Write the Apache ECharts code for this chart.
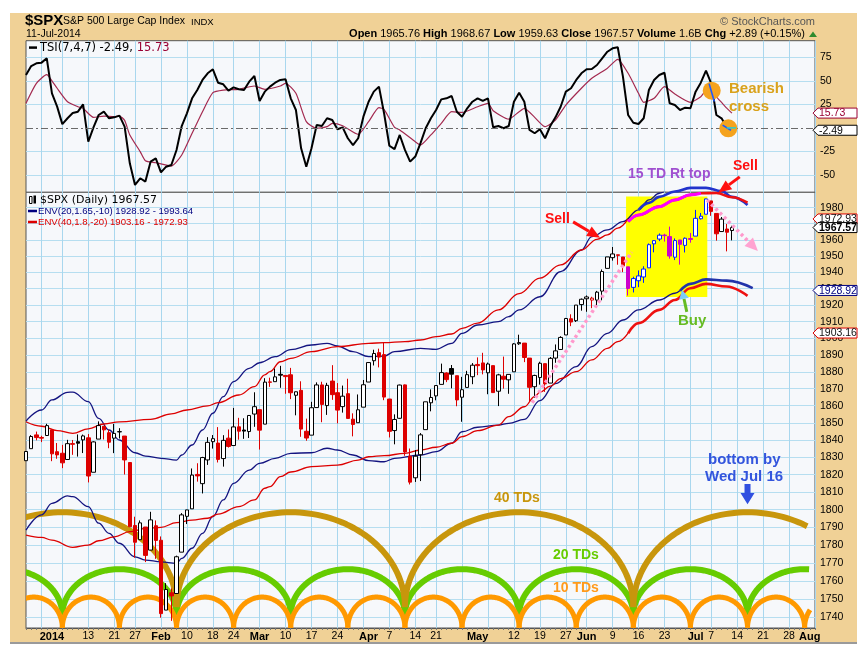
<!DOCTYPE html>
<html>
<head>
<meta charset="utf-8">
<script src="https://cdn.jsdelivr.net/npm/echarts@6/dist/echarts.min.js"></script>
<style>
html,body{margin:0;padding:0;background:#fff;}
#wrap{position:relative;width:867px;height:654px;overflow:hidden;}
#frame{position:absolute;left:10px;top:13px;width:847px;height:629px;background:#F0D196;border-bottom:2px solid #9a9a9a;}
#c{position:absolute;left:0;top:0;width:867px;height:654px;}
</style>
</head>
<body>
<div id="wrap"><div id="frame"></div><div id="c"></div></div>
<script>
// ---------------- DATA ----------------
const tradingDays = {
  '2013-12': [24,26,27,30,31],
  '2014-01': [2,3,6,7,8,9,10,13,14,15,16,17,21,22,23,24,27,28,29,30,31],
  '2014-02': [3,4,5,6,7,10,11,12,13,14,18,19,20,21,24,25,26,27,28],
  '2014-03': [3,4,5,6,7,10,11,12,13,14,17,18,19,20,21,24,25,26,27,28,31],
  '2014-04': [1,2,3,4,7,8,9,10,11,14,15,16,17,21,22,23,24,25,28,29,30],
  '2014-05': [1,2,5,6,7,8,9,12,13,14,15,16,19,20,21,22,23,27,28,29,30],
  '2014-06': [2,3,4,5,6,9,10,11,12,13,16,17,18,19,20,23,24,25,26,27,30],
  '2014-07': [1,2,3,7,8,9,10,11,14,15,16,17,18,21,22,23,24,25,28,29,30,31],
  '2014-08': [1,4]
};
const dates = [];
Object.keys(tradingDays).forEach(m => tradingDays[m].forEach(d => dates.push(m + '-' + String(d).padStart(2, '0'))));

// x-axis tick labels (date -> text)
const xLabels = {
  '2014-01-02':'2014','2014-01-13':'13','2014-01-21':'21','2014-01-27':'27',
  '2014-02-03':'Feb','2014-02-10':'10','2014-02-18':'18','2014-02-24':'24',
  '2014-03-03':'Mar','2014-03-10':'10','2014-03-17':'17','2014-03-24':'24',
  '2014-04-01':'Apr','2014-04-07':'7','2014-04-14':'14','2014-04-21':'21',
  '2014-05-01':'May','2014-05-12':'12','2014-05-19':'19','2014-05-27':'27',
  '2014-06-02':'Jun','2014-06-09':'9','2014-06-16':'16','2014-06-23':'23',
  '2014-07-01':'Jul','2014-07-07':'7','2014-07-14':'14','2014-07-21':'21','2014-07-28':'28',
  '2014-08-01':'Aug'
};
const weekStarts = ['2013-12-30','2014-01-06','2014-01-13','2014-01-21','2014-01-27','2014-02-03','2014-02-10','2014-02-18','2014-02-24','2014-03-03','2014-03-10','2014-03-17','2014-03-24','2014-03-31','2014-04-07','2014-04-14','2014-04-21','2014-04-28','2014-05-05','2014-05-12','2014-05-19','2014-05-27','2014-06-02','2014-06-09','2014-06-16','2014-06-23','2014-06-30','2014-07-07','2014-07-14','2014-07-21','2014-07-28','2014-08-04'];

const priceTicks = [1740,1750,1760,1770,1780,1790,1800,1810,1820,1830,1840,1850,1860,1870,1880,1890,1900,1910,1920,1930,1940,1950,1960,1970,1980];
const tsiTicks = [-50,-25,25,50,75];

const prevClose = 1827.99;
// [open, high, low, close]  Dec 24 2013 .. Jul 11 2014
const ohlc = [
[1828.02,1833.32,1828.02,1833.32],[1834.96,1842.84,1834.96,1842.02],[1842.97,1844.89,1839.81,1841.40],[1841.47,1842.47,1838.77,1841.07],[1842.61,1849.44,1842.41,1848.36],
[1845.86,1845.86,1827.74,1831.98],[1833.21,1838.24,1829.13,1831.37],[1832.31,1837.16,1823.73,1826.77],[1828.71,1840.10,1828.71,1837.88],[1837.90,1840.02,1831.40,1837.49],
[1839.00,1843.23,1830.38,1838.13],[1840.06,1843.15,1832.43,1842.37],[1841.26,1843.45,1815.52,1819.20],[1821.36,1839.26,1821.36,1838.88],[1840.52,1850.84,1840.52,1848.38],
[1847.99,1847.99,1840.30,1845.89],[1844.23,1846.04,1835.23,1838.70],[1841.05,1849.31,1832.38,1843.80],[1844.71,1846.87,1840.88,1844.86],[1842.29,1842.29,1820.06,1828.46],
[1826.96,1826.96,1790.29,1790.29],[1791.03,1795.98,1772.88,1781.56],[1783.00,1793.87,1782.83,1792.50],[1790.15,1790.15,1770.45,1774.20],[1777.17,1798.77,1777.17,1794.19],
[1790.88,1793.88,1772.26,1782.59],
[1782.68,1784.83,1739.66,1741.89],[1743.82,1758.73,1743.82,1755.20],[1753.38,1755.79,1737.92,1751.64],[1752.99,1774.06,1752.99,1773.43],[1776.01,1798.03,1776.01,1797.02],
[1796.20,1799.94,1791.83,1799.84],[1800.45,1823.54,1800.41,1819.75],[1820.12,1826.55,1815.97,1819.26],[1814.82,1830.25,1809.22,1829.83],[1828.46,1841.65,1825.59,1838.63],
[1839.03,1842.87,1835.01,1840.76],[1838.22,1847.50,1826.99,1828.75],[1829.24,1842.79,1824.58,1839.78],[1841.07,1846.13,1835.60,1836.25],[1836.78,1858.71,1836.78,1847.61],
[1847.66,1852.91,1840.19,1845.12],[1845.79,1852.65,1840.66,1845.16],[1844.90,1854.53,1841.13,1854.29],[1855.12,1867.92,1847.67,1859.45],
[1857.68,1857.68,1834.44,1845.73],[1849.23,1876.23,1849.23,1873.91],[1874.05,1876.53,1871.11,1873.81],[1874.18,1881.94,1874.18,1877.03],[1878.52,1883.57,1870.56,1878.04],
[1877.86,1877.87,1867.04,1877.17],[1878.26,1882.35,1863.88,1867.63],[1866.15,1868.38,1854.38,1868.20],[1869.06,1874.40,1841.86,1846.34],[1845.07,1852.44,1839.57,1841.13],
[1842.81,1862.30,1842.81,1858.83],[1858.92,1873.76,1858.92,1872.25],[1872.25,1874.14,1850.35,1860.77],[1860.09,1873.49,1854.63,1872.01],[1874.53,1883.97,1863.46,1866.52],
[1867.67,1873.34,1849.69,1857.44],[1859.48,1871.87,1855.96,1865.62],[1867.09,1875.92,1852.56,1852.56],[1852.11,1855.55,1842.11,1849.04],[1850.07,1866.63,1850.07,1857.62],
[1859.16,1875.18,1859.16,1872.34],
[1873.96,1885.84,1873.96,1885.52],[1886.61,1893.17,1883.79,1890.90],[1891.43,1893.80,1882.65,1888.77],[1890.25,1897.28,1863.26,1865.09],[1863.92,1864.04,1841.48,1845.04],
[1845.48,1854.95,1837.49,1851.96],[1852.64,1872.43,1852.38,1872.18],[1872.28,1872.53,1830.87,1833.08],[1830.65,1835.07,1814.36,1815.69],[1818.18,1834.19,1815.80,1830.61],
[1831.45,1844.02,1816.29,1842.98],[1846.01,1862.31,1846.01,1862.31],[1861.73,1869.63,1856.72,1864.85],[1865.79,1871.89,1863.18,1871.89],[1872.57,1884.89,1872.57,1879.55],
[1879.32,1879.75,1873.91,1875.39],[1881.97,1884.06,1870.24,1878.61],[1877.72,1877.72,1859.70,1863.40],[1865.00,1877.01,1850.61,1869.43],[1870.78,1880.60,1870.78,1878.33],
[1877.10,1885.20,1872.69,1883.95],
[1884.39,1888.59,1878.04,1883.68],[1885.30,1891.33,1878.50,1881.14],[1879.45,1885.51,1866.77,1884.66],[1883.69,1883.69,1867.72,1867.72],[1868.53,1878.83,1859.79,1878.21],
[1877.39,1889.07,1870.05,1875.63],[1875.27,1878.57,1867.02,1878.48],[1880.03,1897.13,1880.03,1896.65],[1896.75,1902.17,1896.06,1897.45],[1897.13,1897.13,1885.77,1888.53],
[1888.16,1888.16,1862.36,1870.85],[1871.19,1878.28,1864.82,1877.86],[1876.66,1886.00,1872.42,1885.08],[1884.88,1884.88,1868.14,1872.83],[1873.34,1888.80,1873.34,1888.03],
[1888.19,1896.33,1885.39,1892.49],[1893.32,1901.26,1893.32,1900.53],[1902.01,1912.28,1902.01,1911.91],[1911.77,1914.46,1907.30,1909.78],[1910.60,1920.03,1909.82,1920.03],
[1920.33,1924.03,1916.64,1923.57],
[1923.87,1925.88,1915.98,1924.97],[1923.07,1925.07,1918.16,1924.24],[1923.06,1928.63,1918.60,1927.88],[1928.52,1941.74,1922.93,1940.46],[1942.41,1949.44,1942.41,1949.44],
[1948.97,1955.55,1947.16,1951.27],[1950.34,1950.86,1944.64,1950.79],[1949.37,1949.37,1940.08,1943.89],[1943.35,1943.35,1925.78,1930.11],[1930.80,1937.30,1927.69,1936.16],
[1934.84,1941.15,1930.91,1937.78],[1937.15,1943.69,1933.55,1941.99],[1942.73,1957.74,1942.73,1956.98],[1957.50,1959.87,1952.26,1959.48],[1960.45,1963.91,1959.17,1962.87],
[1962.92,1963.74,1958.89,1962.61],[1961.97,1968.17,1948.34,1949.98],[1949.27,1960.83,1947.49,1959.53],[1959.89,1959.89,1944.69,1957.22],[1956.56,1961.47,1952.18,1960.96],
[1960.79,1964.24,1958.22,1960.23],
[1962.29,1978.58,1962.29,1973.32],[1973.06,1976.67,1972.58,1974.62],[1975.88,1985.59,1975.88,1985.44],[1984.22,1984.22,1974.88,1977.65],[1976.39,1976.39,1959.46,1963.71],
[1965.10,1974.15,1965.10,1972.83],[1966.67,1969.84,1952.86,1964.68],[1965.76,1968.67,1959.63,1967.57]
];

// TSI(7,4,7), one value per trading day from Dec 24
const tsiValues = [56.2,65.7,68.6,69.3,73.9,36.7,22.6,4,10.2,15.8,
17.2,25,-14.7,0.6,13.7,17.2,10.2,11.2,13,1.3,
-37.6,-60.6,-53.5,-57,-35.9,-32.3,-47.2,-41.2,-39.4,-23.5,
2,15.5,31.4,40.2,50.9,58,62.2,48,46.3,39.5,
43.1,41,40.2,49.1,55.1,28.6,38.5,43.8,48,50.9,
51.6,31.4,19,-21.7,-41.2,-21.7,3.1,2,10.2,8.4,
-1.5,0.6,-11,-18.2,-11,11.9,27.8,38.5,43.8,15,
-19,-22.6,-7.5,-23.4,-35.8,-30.4,-16.2,-0.4,10.2,19,
30.3,31.4,33.9,17.2,11.9,20.8,27.8,31.4,28.6,31.4,
0.6,2,-0.4,2,27.8,37.4,27.8,-2.2,-5.7,-1.5,
-11,2,11.2,22.5,38.5,42.1,50.9,58,62.2,62.6,
66.8,73.9,80.9,84.5,85.6,54.4,13.7,5.5,4.1,10.2,
40.2,50.9,56.2,58.6,26.1,24.3,19,21.5,20.8,38.5,
48,60.8,47.3,13.7,10.2,0.6,-2.49];
// TSI signal line, [trading-day index, value]
const tsiSignal = [[0,26.1],[2,47.3],[4,56.5],[5,50],[6,42.1],[8,27.8],[10,22.5],[11,20.8],[13,11.2],[15,12.6],[17,11.9],[18,12.6],[19,8],[20,-7.5],[22,-25.2],[23,-34.8],[25,-37],[28,-40.5],[30,-28.8],[32,-5.7],[34,17.2],[36,37.4],[38,40.2],[41,41],[44,44.5],[46,41],[49,44.5],[50,47.3],[52,36.7],[54,6.6],[56,-0.4],[58,1.3],[59,4.8],[61,2.3],[64,-6.8],[66,6.6],[68,21.5],[69,19.5],[71,0.6],[72,-2.2],[75,-14.7],[76,-18.2],[78,-7.5],[80,4.8],[82,17.2],[84,16.4],[87,22.5],[89,26.1],[90,18.3],[93,9.3],[95,17.2],[96,20.8],[98,11.2],[100,1.3],[102,8.4],[104,24.3],[107,42.1],[109,52.7],[112,63.4],[114,72.8],[116,58],[118,36.7],[119,27.2],[121,31.4],[123,43.8],[125,36],[128,27.2],[130,33.1],[131,40],[132,43],[133,33.1],[134,27],[135,21],[136,15.73]];

// Price envelopes, [trading-day index, price]
const env20Upper = [[0,1851],[3,1857.5],[5,1863.4],[8,1867.9],[9,1868],[12,1862.4],[14,1852.6],[16,1845.8],[18,1840],[21,1832.6],[23,1830.7],[26,1829.4],[29,1828.4],[30,1831.3],[32,1837.1],[34,1845.8],[36,1855.6],[38,1865.3],[40,1874.2],[43,1882.1],[45,1885.4],[48,1889],[51,1893.2],[55,1896],[58,1897],[60,1895.4],[63,1892],[66,1889],[69,1889.4],[71,1892],[76,1894],[79,1893.4],[82,1897],[84,1903],[87,1908],[91,1910],[93,1913],[95,1917.1],[99,1925.1],[103,1940.4],[107,1953.7],[109,1962],[112,1966.1],[115,1971.3],[118,1978.6],[120,1984.8],[122,1989],[124,1991.5],[126,1993.64]];
const env20Lower = [[0,1788.4],[3,1797],[5,1803.6],[8,1807.8],[9,1807.4],[12,1801.7],[14,1792.3],[16,1786.6],[18,1781],[21,1773.4],[23,1771.6],[26,1770.6],[29,1769.7],[30,1772.5],[32,1778.2],[34,1786.6],[36,1796],[38,1805.5],[40,1815],[43,1822.6],[45,1826.5],[48,1829.4],[51,1832.3],[55,1832.6],[58,1835.2],[60,1834.2],[63,1831.3],[66,1828],[69,1827.4],[71,1829.4],[76,1831.3],[79,1833.2],[82,1838.1],[84,1844.8],[87,1847.4],[91,1848.7],[93,1849.7],[96,1852],[99,1863],[102,1873],[106,1883.1],[109,1895],[112,1903],[115,1911],[118,1917.1],[122,1923.1],[125,1927.2],[126,1928.92]];
const env40Upper = [[0,1850.6],[3,1848],[6,1845.5],[9,1843.9],[12,1846.5],[15,1849.3],[18,1850.6],[24,1852],[28,1855.2],[31,1857.5],[35,1859.9],[37,1861.8],[41,1866.3],[44,1871.2],[46,1878.2],[47,1880.1],[49,1886],[51,1888],[55,1892],[60,1895],[66,1897],[69,1897.4],[73,1898],[76,1899],[79,1901],[82,1902.6],[84,1906],[87,1909.1],[91,1917.1],[95,1927],[99,1936.4],[103,1944.5],[107,1953.7],[110,1960.3],[112,1963],[114,1967.2],[116,1972.93]];
const env40Lower = [[0,1785.6],[3,1784.3],[5,1782.8],[9,1778.7],[12,1780],[14,1782.4],[17,1784.6],[20,1787.5],[23,1789.4],[26,1790],[29,1792.6],[32,1794.1],[35,1795.1],[37,1797.5],[41,1801.7],[44,1805.5],[46,1812.2],[47,1813.1],[49,1818.8],[51,1821.5],[55,1824.6],[60,1825.5],[64,1828.4],[66,1830.3],[69,1830.9],[73,1832.3],[76,1834.2],[79,1835.8],[82,1838.1],[84,1841.9],[87,1845.4],[91,1848.7],[93,1853.6],[96,1859.4],[98,1865.3],[99,1868],[101,1871.5],[103,1876],[106,1880.1],[109,1887.1],[112,1894],[114,1898],[116,1903.16]];

// hand-drawn envelope projections, [trading-day index, price]
const projBlueTop = [[118,1978.6],[120,1983],[122,1986.7],[125,1990.1],[128,1992.4],[131,1992.4],[134,1990.4],[136,1986.7],[139,1981.7]];
const projRedTop = [[116,1971.3],[118,1975.4],[122,1980.6],[125,1984.8],[128,1988],[130,1989],[133,1989.2],[136,1986.5],[139,1983.1]];
const projMagenta = [[116,1971.3],[118,1975.4],[122,1980.6],[125,1984.8],[128,1988],[130,1989]];
const projBlueLow = [[126,1928.6],[128,1932.9],[131,1935.7],[135,1934.9],[140,1930.3]];
const projRedLow = [[116,1903],[118,1909.1],[122,1917.1],[125,1923.1],[128,1930.3],[131,1932.9],[135,1931.3],[139,1925.6]];

// cycle lows
const cycle40Lows = ['2014-02-06','2014-04-10','2014-06-13'];
const cycle20Lows = ['2014-01-06','2014-02-06','2014-03-11','2014-04-10','2014-05-13','2014-06-13','2014-07-16'];
const cycle10Lows = ['2014-01-06','2014-01-22','2014-02-06','2014-02-24','2014-03-11','2014-03-26','2014-04-10','2014-04-28','2014-05-13','2014-05-29','2014-06-13','2014-06-30','2014-07-16','2014-07-31'];

// ---------------- BUILD ----------------
const L = Math.log;
const F = '"Liberation Sans", Arial, sans-serif';
const FD = '"DejaVu Sans", Verdana, sans-serif';
const di = d => dates.indexOf(d);
const weekSet = new Set(weekStarts);
const boxFrom = di('2014-06-12'), boxTo = di('2014-07-03');

const candleData = ohlc.map((d, i) => {
  const [o, h, l, c] = d;
  const prev = i > 0 ? ohlc[i - 1][3] : prevClose;
  const up = c >= o;
  let col = c < prev ? '#DD0000' : '#000000';
  let fill = up ? '#FFFFFF' : col;
  if (i >= boxFrom && i <= boxTo) { col = up ? '#0022FF' : '#CC00CC'; fill = up ? '#FFFFFF' : '#CC00CC'; }
  return { value: [L(o), L(c), L(l), L(h)], itemStyle: { color: fill, color0: fill, borderColor: col, borderColor0: col, borderColorDoji: col } };
});

const cycles = [
  { lows: cycle20Lows, span: 22, base: 1741, peak: 1766.5, color: '#66CC00', width: 6 },
  { lows: cycle40Lows, span: 44, base: 1745.5, peak: 1798.5, color: '#C8960C', width: 6 },
  { lows: cycle10Lows, span: 11, base: 1734, peak: 1751, color: '#FF9900', width: 5 }
];
const drawEnd = di('2014-08-01');

function xAt(api, cat, yv) {
  const p0 = api.coord([0, yv]), p1 = api.coord([1, yv]);
  return [p0[0] + cat * (p1[0] - p0[0]), p0[1]];
}
function arrowShapes(p, q, color, w, hl, hw) {
  const a = Math.atan2(q[1] - p[1], q[0] - p[0]);
  const bx = q[0] - hl * Math.cos(a), by = q[1] - hl * Math.sin(a);
  const nx = -Math.sin(a) * hw / 2, ny = Math.cos(a) * hw / 2;
  return [
    { type: 'line', shape: { x1: p[0], y1: p[1], x2: bx, y2: by }, style: { stroke: color, lineWidth: w } },
    { type: 'polygon', shape: { points: [[q[0], q[1]], [bx + nx, by + ny], [bx - nx, by - ny]] }, style: { fill: color } }
  ];
}

function cycleSeries(cy) {
  const idx = cy.lows.map(di);
  const all = [idx[0] - cy.span].concat(idx, [idx[idx.length - 1] + cy.span]);
  const arcs = [];
  for (let k = 0; k < all.length - 1; k++) arcs.push([all[k], all[k + 1]]);
  return {
    type: 'custom', xAxisIndex: 1, yAxisIndex: 1, z: 1, clip: true, silent: true,
    data: arcs.map(a => [0, L(cy.base)]),
    renderItem: (params, api) => {
      const [a, b] = arcs[params.dataIndex];
      const pa = xAt(api, a, L(cy.base)), pb = xAt(api, b, L(cy.base));
      const yPeak = api.coord([0, L(cy.peak)])[1];
      const xEnd = xAt(api, drawEnd, L(cy.base))[0];
      const cx = (pa[0] + pb[0]) / 2, rx = (pb[0] - pa[0]) / 2, ry = pa[1] - yPeak;
      const pts = [];
      for (let k = 0; k <= 80; k++) {
        const t = Math.PI * k / 80;
        const x = cx - rx * Math.cos(t);
        if (x > xEnd + 0.5) break;
        pts.push([x, pa[1] - ry * Math.sin(t)]);
      }
      if (pts.length < 2) return null;
      return { type: 'polyline', shape: { points: pts }, style: { stroke: cy.color, lineWidth: cy.width, fill: null, lineJoin: 'round' } };
    }
  };
}

// annotation anchors in data units: [trading-day index, price]
const priceNotes = [
  { kind: 'arrow', from: [137.5, 1999.3], to: [133.4, 1989.4], color: '#FF1010' },
  { kind: 'arrow', from: [105.4, 1971.1], to: [110.6, 1961.2], color: '#FF1010' },
  { kind: 'buy', from: [127.3, 1915.9], to: [126.4, 1929.2] },
  { kind: 'dotted', from: [97.5, 1861.8], to: [116.7, 1952.4] },
  { kind: 'dottedArrow', from: [131.2, 1984.8], to: [141.0, 1953.1] },
  { kind: 'block', from: [139, 1814.6], to: [139, 1803.1] }
];
const tsiNotes = [
  { kind: 'circle', at: [132.1, 39.5] },
  { kind: 'circle', at: [135.3, -0.4] },
  { kind: 'seg', from: [131.6, 47], to: [132.6, 28], color: '#1E5AFF' },
  { kind: 'seg', from: [134.2, 3], to: [135.8, -2.5], color: '#1E5AFF' },
  { kind: 'seg', from: [135.0, 0], to: [136.8, 0], color: '#33CCCC' }
];
const priceTags = [
  { v: 1972.93, text: '1972.93', color: '#DD0000', bold: false },
  { v: 1967.57, text: '1967.57', color: '#000000', bold: true },
  { v: 1928.92, text: '1928.92', color: '#000080', bold: false },
  { v: 1903.16, text: '1903.16', color: '#DD0000', bold: false }
];
const tsiTags = [
  { v: 15.73, text: '15.73', color: '#990033', bold: false },
  { v: -2.49, text: '-2.49', color: '#000000', bold: false }
];

function tagSeries(gi, tags, tf) {
  return {
    type: 'custom', xAxisIndex: gi, yAxisIndex: gi, z: 20, clip: false, silent: true,
    data: tags.map(t => [0, tf(t.v)]),
    renderItem: (params, api) => {
      const t = tags[params.dataIndex];
      const X = params.coordSys.x + params.coordSys.width - 2;
      const y = api.coord([0, tf(t.v)])[1];
      return { type: 'group', children: [
        { type: 'polygon', shape: { points: [[X, y], [X + 5, y - 5], [X + 44, y - 5], [X + 44, y + 5], [X + 5, y + 5]] }, style: { fill: '#FFFFFF', stroke: t.color, lineWidth: 1 } },
        { type: 'text', x: X + 6, y: y + 0.5, style: { text: t.text, fill: t.color === '#DD0000' ? '#111' : t.color, fontSize: 10.5, fontWeight: t.bold ? 'bold' : 'normal', fontFamily: F, verticalAlign: 'middle', textVerticalAlign: 'middle' } }
      ] };
    }
  };
}

const envSeries = (pts, color, width, extra) => Object.assign({
  type: 'line', xAxisIndex: 1, yAxisIndex: 1, data: pts.map(p => [p[0], L(p[1])]),
  symbol: 'none', smooth: 0.4, smoothMonotone: 'x', silent: true, z: 3,
  lineStyle: { color: color, width: width }
}, extra || {});

const gridLineBlue = '#A9D7EE';

const option = {
  animation: false,
  backgroundColor: 'transparent',
  grid: [
    { left: 26, right: 52, top: 40.7, height: 151.6, show: true, backgroundColor: '#F6F8FB', borderColor: '#555', borderWidth: 1 },
    { left: 26, right: 52, top: 192.3, bottom: 26, show: true, backgroundColor: '#F6F8FB', borderColor: '#555', borderWidth: 1 }
  ],
  xAxis: [0, 1].map(g => ({
    gridIndex: g, type: 'category', data: dates, boundaryGap: false,
    axisLine: { show: g === 1, lineStyle: { color: '#555' } },
    axisTick: { show: g === 1, interval: 0, length: 2, lineStyle: { color: '#777' } },
    axisLabel: {
      show: g === 1, interval: (i, v) => v in xLabels, margin: 3,
      formatter: v => { const t = xLabels[v]; if (!t) return ''; return /^\d+$/.test(t) && t !== '2014' ? '{n|' + t + '}' : '{b|' + t + '}'; },
      rich: { b: { fontWeight: 'bold', fontSize: 11, fontFamily: F, color: '#000' }, n: { fontSize: 10.5, fontFamily: F, color: '#000' } }
    },
    splitLine: { show: true, interval: (i, v) => weekSet.has(v), lineStyle: { color: gridLineBlue, width: 1 } }
  })),
  yAxis: [
    { gridIndex: 0, type: 'value', position: 'right', min: -68.4, max: 92.6,
      axisLine: { show: false }, axisTick: { show: false, customValues: tsiTicks },
      axisLabel: { customValues: tsiTicks, fontSize: 10.5, fontFamily: F, color: '#000', margin: 5 },
      splitLine: { show: true, lineStyle: { color: '#B6DEF0', width: 1 } } },
    { gridIndex: 1, type: 'value', position: 'right', min: L(1734.0), max: L(1989.6),
      axisLine: { show: false }, axisTick: { show: false, customValues: priceTicks.map(L) },
      axisLabel: { customValues: priceTicks.map(L), formatter: v => String(Math.round(Math.exp(v))), fontSize: 10.5, fontFamily: F, color: '#000', margin: 5 },
      splitLine: { show: true, lineStyle: { color: '#B6DEF0', width: 1 } } }
  ],
  series: [
    // ---- TSI panel
    { type: 'line', xAxisIndex: 0, yAxisIndex: 0, data: tsiValues, symbol: 'none', silent: true, z: 3,
      lineStyle: { color: '#000', width: 2 },
      markLine: { silent: true, symbol: 'none', label: { show: false }, data: [{ yAxis: 0 }], lineStyle: { color: '#6A6A6A', width: 1, type: [7, 3, 2, 3] } } },
    { type: 'line', xAxisIndex: 0, yAxisIndex: 0, data: tsiSignal, symbol: 'none', silent: true, z: 2, smooth: 0.2,
      lineStyle: { color: '#A3294F', width: 1.2 } },
    { type: 'custom', xAxisIndex: 0, yAxisIndex: 0, z: 10, clip: false, silent: true,
      data: tsiNotes.map(n => [0, 0]),
      renderItem: (params, api) => {
        const n = tsiNotes[params.dataIndex];
        if (n.kind === 'circle') {
          const p = xAt(api, n.at[0], n.at[1]);
          return { type: 'circle', shape: { cx: p[0], cy: p[1], r: 9 }, style: { fill: '#F5A31E' } };
        }
        const p = xAt(api, n.from[0], n.from[1]), q = xAt(api, n.to[0], n.to[1]);
        return { type: 'line', z2: 5, shape: { x1: p[0], y1: p[1], x2: q[0], y2: q[1] }, style: { stroke: n.color, lineWidth: 1.6 } };
      } },
    tagSeries(0, tsiTags, v => v),
    // ---- price panel
    { type: 'custom', xAxisIndex: 1, yAxisIndex: 1, z: 1, clip: false, silent: true,
      data: [[boxFrom, L(1925)]],
      renderItem: (params, api) => {
        const a = xAt(api, boxFrom - 0.4, L(1987)), b = xAt(api, boxTo + 0.25, L(1925));
        return { type: 'rect', shape: { x: a[0], y: a[1], width: b[0] - a[0], height: b[1] - a[1] }, style: { fill: '#FFFF00' } };
      } },
    cycleSeries(cycles[0]), cycleSeries(cycles[1]), cycleSeries(cycles[2]),
    envSeries(env20Upper, '#141480', 1.3),
    envSeries(env20Lower, '#141480', 1.3),
    envSeries(env40Upper, '#DD0000', 1.3),
    envSeries(env40Lower, '#DD0000', 1.3),
    envSeries(projBlueTop, '#2233CC', 2.6, { clip: false, z: 4 }),
    envSeries(projRedTop, '#EE1111', 2.6, { clip: false, z: 4 }),
    envSeries(projMagenta, '#FF00FF', 3, { clip: false, z: 5 }),
    envSeries(projBlueLow, '#2233AA', 2.6, { clip: false, z: 4 }),
    envSeries(projRedLow, '#EE1111', 2.6, { clip: false, z: 4 }),
    { type: 'candlestick', xAxisIndex: 1, yAxisIndex: 1, data: candleData, barWidth: 4, z: 6, silent: true,
      itemStyle: { borderWidth: 1 } },
    { type: 'custom', xAxisIndex: 1, yAxisIndex: 1, z: 10, clip: false, silent: true,
      data: priceNotes.map(n => [0, L(1800)]),
      renderItem: (params, api) => {
        const n = priceNotes[params.dataIndex];
        const p = xAt(api, n.from[0], L(n.from[1])), q = xAt(api, n.to[0], L(n.to[1]));
        if (n.kind === 'arrow') return { type: 'group', children: arrowShapes(p, q, n.color, 3, 13, 11) };
        if (n.kind === 'buy') {
          const s = arrowShapes(p, q, '#66BB22', 3, 9, 10);
          s[1].style.fill = '#7CCDF5';
          return { type: 'group', children: s };
        }
        if (n.kind === 'dotted') return { type: 'line', shape: { x1: p[0], y1: p[1], x2: q[0], y2: q[1] }, style: { stroke: '#FF99CC', lineWidth: 3.5, lineDash: [3, 3] } };
        if (n.kind === 'dottedArrow') {
          const s = arrowShapes(p, q, '#FF99CC', 3.5, 13, 12);
          s[0].style.lineDash = [3, 3];
          s[1].style.fill = '#FFA3D1';
          return { type: 'group', children: s };
        }
        if (n.kind === 'block') {
          const h = q[1] - p[1], x = p[0];
          return { type: 'polygon', shape: { points: [[x - 3, p[1]], [x + 3, p[1]], [x + 3, p[1] + h * 0.45], [x + 7, p[1] + h * 0.45], [x, q[1]], [x - 7, p[1] + h * 0.45], [x - 3, p[1] + h * 0.45]] }, style: { fill: '#3050E0' } };
        }
        return null;
      } },
    tagSeries(1, priceTags, L)
  ],
  graphic: []
};

// ---- header / legends / annotation text (layout)
const G = [];
const txt = (t, x, y, o) => G.push({ type: 'text', x, y, z: 100, silent: true, style: Object.assign({ text: t, fill: '#000', fontSize: 11, fontFamily: F, verticalAlign: 'middle', textVerticalAlign: 'middle', align: 'left', textAlign: 'left' }, o || {}) });
txt('$SPX', 25, 21, { fontSize: 15, fontWeight: 'bold' });
txt('S&P 500 Large Cap Index', 63, 21.5, { fontSize: 10.5 });
txt('INDX', 191, 22, { fontSize: 9.5 });
txt('11-Jul-2014', 26, 34, { fontSize: 10.5 });
txt('© StockCharts.com', 815, 21.5, { fontSize: 11, fill: '#555', align: 'right', textAlign: 'right' });
txt('{b|Open} 1965.76 {b|High} 1968.67 {b|Low} 1959.63 {b|Close} 1967.57 {b|Volume} 1.6B {b|Chg} +2.89 (+0.15%)', 805, 34,
  { fontSize: 11, align: 'right', textAlign: 'right', rich: { b: { fontWeight: 'bold', fontSize: 11, fontFamily: F } } });
G.push({ type: 'polygon', z: 100, silent: true, shape: { points: [[809, 37], [817, 37], [813, 31.5]] }, style: { fill: '#2E8B2E' } });
// TSI legend
G.push({ type: 'line', z: 100, silent: true, shape: { x1: 29, y1: 47.6, x2: 37, y2: 47.6 }, style: { stroke: '#000', lineWidth: 2.5 } });
txt('TSI(7,4,7) -2.49, {r|15.73}', 40, 47.6, { fontSize: 11.5, fontFamily: FD, rich: { r: { fill: '#990033', color: '#990033', fontSize: 11.5, fontFamily: FD } } });
// price legends
G.push({ type: 'rect', z: 100, silent: true, shape: { x: 29.5, y: 196.5, width: 2.5, height: 7 }, style: { fill: '#fff', stroke: '#000', lineWidth: 1 } });
G.push({ type: 'rect', z: 100, silent: true, shape: { x: 33.5, y: 195.5, width: 2.5, height: 8 }, style: { fill: '#000' } });
txt('$SPX (Daily) 1967.57', 40, 200, { fontSize: 11, fontFamily: FD });
G.push({ type: 'line', z: 100, silent: true, shape: { x1: 28, y1: 211, x2: 37, y2: 211 }, style: { stroke: '#000080', lineWidth: 2.5 } });
txt('ENV(20,1.65,-10) 1928.92 - 1993.64', 38, 211, { fontSize: 9.6, fill: '#000080' });
G.push({ type: 'line', z: 100, silent: true, shape: { x1: 28, y1: 222, x2: 37, y2: 222 }, style: { stroke: '#DD0000', lineWidth: 2.5 } });
txt('ENV(40,1.8,-20) 1903.16 - 1972.93', 38, 222, { fontSize: 9.6, fill: '#DD0000' });
// hand annotations
const bold = (c, s) => ({ fill: c, fontSize: s, fontWeight: 'bold' });
txt('Bearish', 729, 89, bold('#D9A21B', 15));
txt('cross', 729, 107, bold('#D9A21B', 15));
txt('15 TD Rt top', 628, 174, bold('#A050D0', 14));
txt('Sell', 733, 166, bold('#FF1010', 14));
txt('Sell', 545, 219, bold('#FF1010', 14));
txt('Buy', 678, 321, bold('#66BB22', 15));
txt('40 TDs', 494, 498, bold('#C8960C', 14));
txt('20 TDs', 553, 555, bold('#66CC00', 14));
txt('10 TDs', 553, 588, bold('#FF9A1A', 14));
txt('bottom by', 708, 460, bold('#3355DD', 15));
txt('Wed Jul 16', 705, 477, bold('#3355DD', 15));
option.graphic = G;

const chart = echarts.init(document.getElementById('c'));
chart.setOption(option);
</script>
</body>
</html>
